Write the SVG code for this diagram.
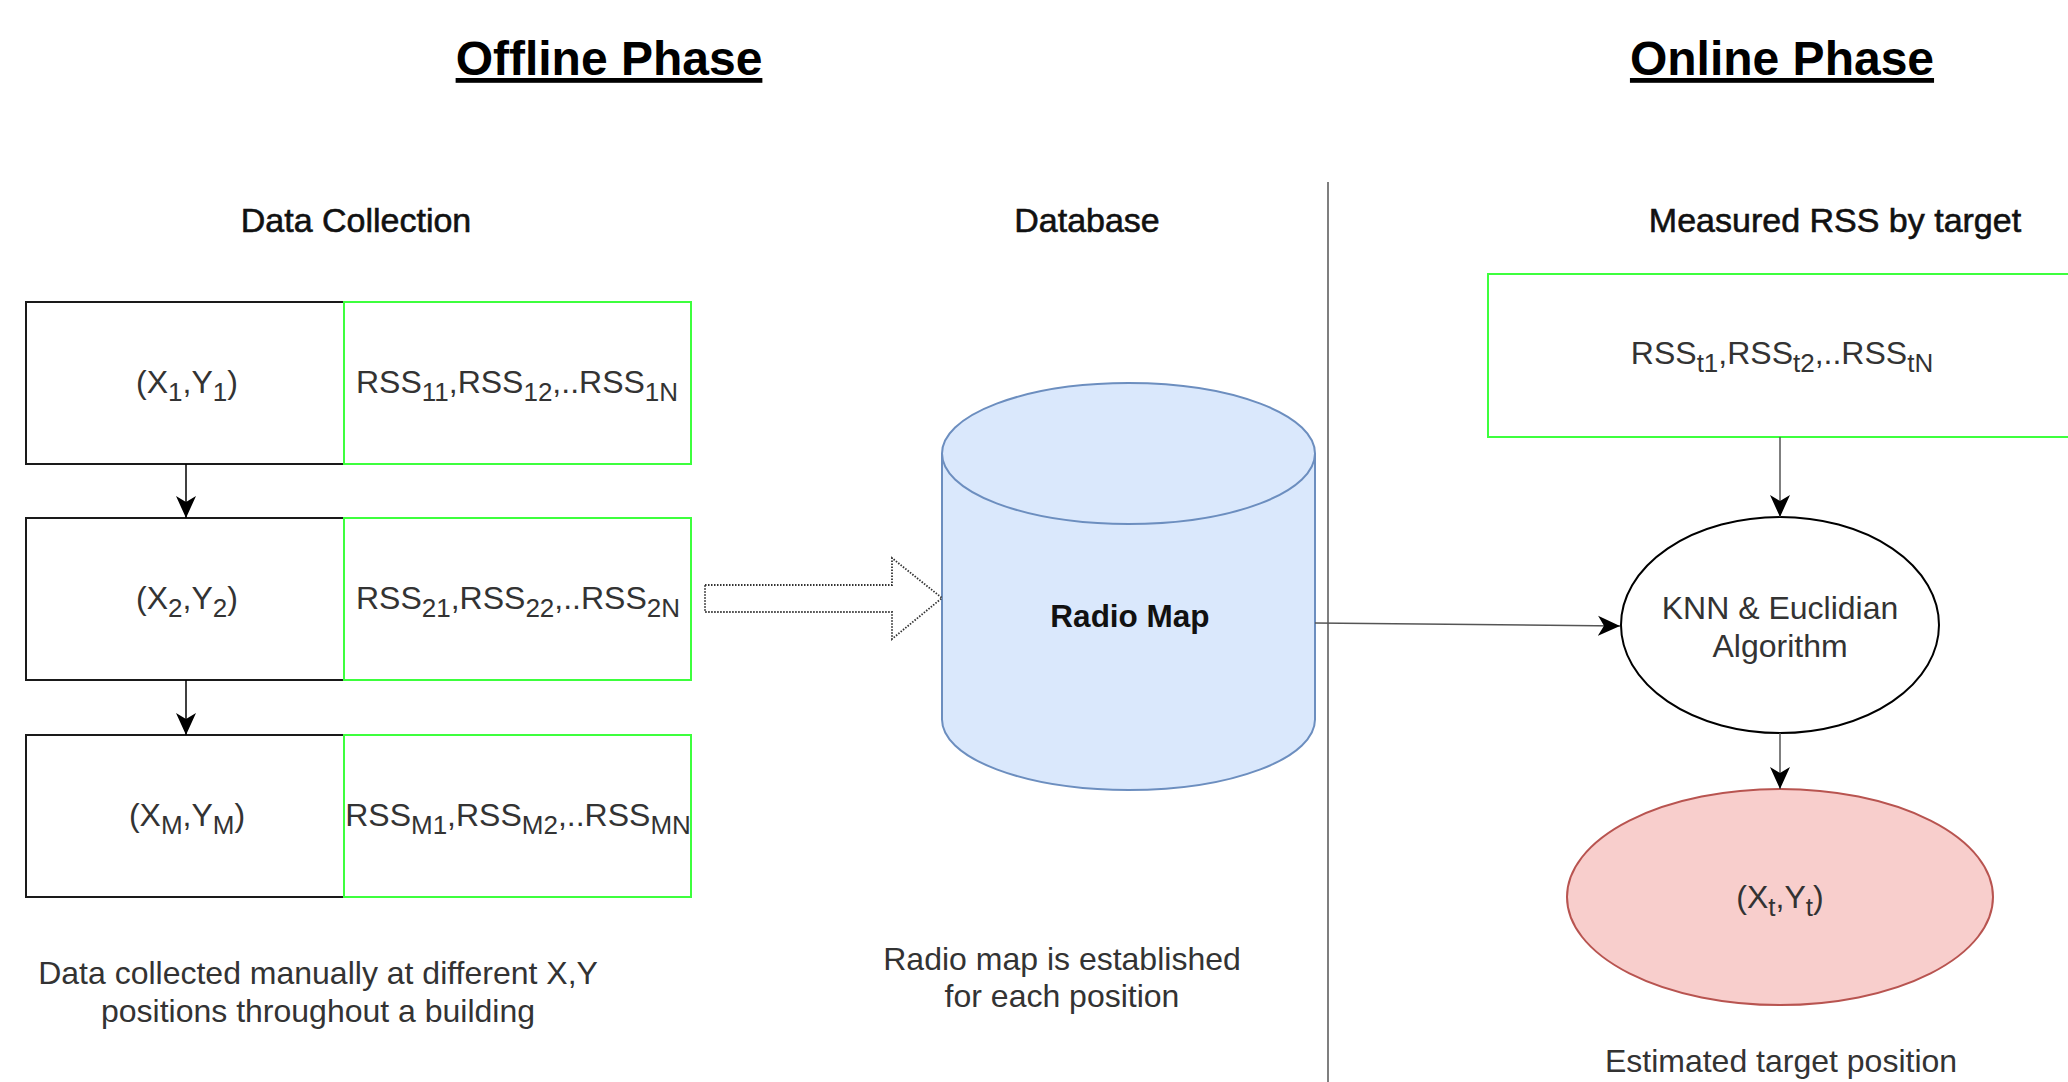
<svg xmlns="http://www.w3.org/2000/svg" width="2068" height="1082" viewBox="0 0 2068 1082">
<style>
  text { font-family: "Liberation Sans", Arial, sans-serif; }
  .title { font-size: 48px; font-weight: bold; fill: #000; text-decoration: underline; }
  .head { font-size: 34px; fill: #111; stroke: #111; stroke-width: 0.6; }
  .body { font-size: 32px; fill: #333; }
  .lbl { font-size: 32px; fill: #333; }
  .bold { font-size: 31.5px; font-weight: bold; fill: #111; }
  .sub { font-size: 26px; }
  .black { fill: #fff; stroke: #1a1a1a; stroke-width: 2; }
  .green { fill: #fff; stroke: #3dff3d; stroke-width: 2; }
  .conn { fill: none; stroke: #000; stroke-width: 1.5; }
  .connG { fill: none; stroke: #555; stroke-width: 1.5; }
</style>
<defs>
  <marker id="arr" markerUnits="userSpaceOnUse" markerWidth="24" markerHeight="22" refX="22" refY="11" orient="auto" viewBox="0 0 24 22">
    <path d="M0,1 L22,11 L0,21 L6,11 Z" fill="#000"/>
  </marker>
</defs>
<rect width="2068" height="1082" fill="#fff"/>

<g id="titles">
  <text class="title" x="609" y="75" text-anchor="middle">Offline Phase</text>
  <text class="title" x="1782" y="75" text-anchor="middle">Online Phase</text>
</g>

<g id="headings">
  <text class="head" x="356" y="232" text-anchor="middle">Data Collection</text>
  <text class="head" x="1087" y="232" text-anchor="middle">Database</text>
  <text class="head" x="1835" y="232" text-anchor="middle">Measured RSS by target</text>
</g>

<g id="divider">
  <line x1="1328" y1="182" x2="1328" y2="1082" stroke="#555" stroke-width="1.5"/>
</g>

<g id="pos1">
  <rect class="black" x="26" y="302" width="318" height="162"/>
  <text class="lbl" x="187" y="393" text-anchor="middle">(X<tspan class="sub" dy="8">1</tspan><tspan dy="-8">,Y</tspan><tspan class="sub" dy="8">1</tspan><tspan dy="-8">)</tspan></text>
</g>
<g id="rss1">
  <rect class="green" x="344" y="302" width="347" height="162"/>
  <text class="lbl" x="517" y="393" text-anchor="middle">RSS<tspan class="sub" dy="8">11</tspan><tspan dy="-8">,RSS</tspan><tspan class="sub" dy="8">12</tspan><tspan dy="-8">,..RSS</tspan><tspan class="sub" dy="8">1N</tspan></text>
</g>

<g id="pos2">
  <rect class="black" x="26" y="518" width="318" height="162"/>
  <text class="lbl" x="187" y="609" text-anchor="middle">(X<tspan class="sub" dy="8">2</tspan><tspan dy="-8">,Y</tspan><tspan class="sub" dy="8">2</tspan><tspan dy="-8">)</tspan></text>
</g>
<g id="rss2">
  <rect class="green" x="344" y="518" width="347" height="162"/>
  <text class="lbl" x="518" y="609" text-anchor="middle">RSS<tspan class="sub" dy="8">21</tspan><tspan dy="-8">,RSS</tspan><tspan class="sub" dy="8">22</tspan><tspan dy="-8">,..RSS</tspan><tspan class="sub" dy="8">2N</tspan></text>
</g>

<g id="pos3">
  <rect class="black" x="26" y="735" width="318" height="162"/>
  <text class="lbl" x="187" y="826" text-anchor="middle">(X<tspan class="sub" dy="8">M</tspan><tspan dy="-8">,Y</tspan><tspan class="sub" dy="8">M</tspan><tspan dy="-8">)</tspan></text>
</g>
<g id="rss3">
  <rect class="green" x="344" y="735" width="347" height="162"/>
  <text class="lbl" x="518" y="826" text-anchor="middle">RSS<tspan class="sub" dy="8">M1</tspan><tspan dy="-8">,RSS</tspan><tspan class="sub" dy="8">M2</tspan><tspan dy="-8">,..RSS</tspan><tspan class="sub" dy="8">MN</tspan></text>
</g>

<g id="note-left">
  <text class="body" x="318" y="984" text-anchor="middle">Data collected manually at different X,Y</text>
  <text class="body" x="318" y="1022" text-anchor="middle">positions throughout a building</text>
</g>

<g id="radio-map">
  <path d="M942,453.5 A186.5,70.5 0 0 1 1315,453.5 L1315,719.5 A186.5,70.5 0 0 1 942,719.5 Z" fill="#dae8fc" stroke="#6c8ebf" stroke-width="2"/>
  <path d="M942,453.5 A186.5,70.5 0 0 0 1315,453.5" fill="none" stroke="#6c8ebf" stroke-width="2"/>
  <text class="bold" x="1130" y="627" text-anchor="middle">Radio Map</text>
</g>

<g id="note-mid">
  <text class="body" x="1062" y="970" text-anchor="middle">Radio map is established</text>
  <text class="body" x="1062" y="1007" text-anchor="middle">for each position</text>
</g>

<g id="rss-target">
  <rect class="green" x="1488" y="274" width="586" height="163"/>
  <text class="lbl" x="1782" y="364" text-anchor="middle">RSS<tspan class="sub" dy="8">t1</tspan><tspan dy="-8">,RSS</tspan><tspan class="sub" dy="8">t2</tspan><tspan dy="-8">,..RSS</tspan><tspan class="sub" dy="8">tN</tspan></text>
</g>

<g id="knn">
  <ellipse cx="1780" cy="625" rx="159" ry="108" fill="#fff" stroke="#000" stroke-width="2"/>
  <text class="lbl" x="1780" y="619" text-anchor="middle" font-size="31">KNN &amp; Euclidian</text>
  <text class="lbl" x="1780" y="657" text-anchor="middle" font-size="31">Algorithm</text>
</g>

<g id="estimate">
  <ellipse cx="1780" cy="897" rx="213" ry="108" fill="#f8cecc" stroke="#b85450" stroke-width="2"/>
  <text class="lbl" x="1780" y="908" text-anchor="middle">(X<tspan class="sub" dy="8">t</tspan><tspan dy="-8">,Y</tspan><tspan class="sub" dy="8">t</tspan><tspan dy="-8">)</tspan></text>
  <text class="body" x="1781" y="1072" text-anchor="middle">Estimated target position</text>
</g>

<g id="connectors">
  <line class="conn" x1="186" y1="464" x2="186" y2="518" marker-end="url(#arr)"/>
  <line class="conn" x1="186" y1="680" x2="186" y2="735" marker-end="url(#arr)"/>
  <path d="M705,585 L892,585 L892,558 L942,598 L892,639 L892,612 L705,612 Z" fill="#fff" stroke="#333" stroke-width="1.8" stroke-dasharray="1.5 1.5"/>
  <line class="connG" x1="1315" y1="623" x2="1620" y2="626" marker-end="url(#arr)"/>
  <line class="connG" x1="1780" y1="437" x2="1780" y2="517" marker-end="url(#arr)"/>
  <line class="connG" x1="1780" y1="733" x2="1780" y2="789" marker-end="url(#arr)"/>
</g>
</svg>
